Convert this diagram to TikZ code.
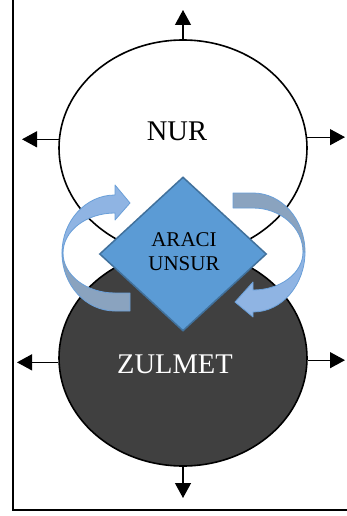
\documentclass[tikz,border=0pt]{standalone}
\usepackage{fontspec}
\setmainfont{Liberation Serif}
\usetikzlibrary{shapes.geometric,arrows.meta}
\definecolor{diafill}{HTML}{5B9BD5}
\definecolor{diaedge}{HTML}{41719C}
\definecolor{frontblue}{HTML}{8FB4E3}
\definecolor{backgray}{HTML}{8AA3BF}
\definecolor{ribedge}{HTML}{6A9FD8}
\definecolor{darkfill}{HTML}{404040}
\begin{document}
\begin{tikzpicture}[x=1pt,y=-1pt,
  blob/.style={ellipse,draw=black,line width=1.6pt,minimum width=248pt,minimum height=216pt,inner sep=0pt},
  outarrow/.style={line width=1.2pt,-{Triangle[length=15pt,width=16pt]}},
  bigtext/.style={font=\fontsize{28.5}{34}\selectfont,anchor=base},
  ribfront/.style={fill=frontblue,draw=ribedge,line width=0.8pt,line join=round},
  ribback/.style={fill=backgray,draw=ribedge,line width=0.8pt,line join=round}]
\useasboundingbox (0,0) rectangle (347,516);
\draw[line width=2.7pt] (13,-2) -- (13,510) -- (349,510);
% ellipses
\node[blob,fill=white] (nur) at (183,148) {};
\node[blob,fill=darkfill] (zul) at (183,358) {};
% outward arrows
\coordinate (nurT) at (183,10);
\coordinate (nurL) at (22,139);
\coordinate (nurR) at (345,137);
\coordinate (zulL) at (17,362);
\coordinate (zulR) at (345,361);
\coordinate (zulB) at (183,498);
\draw[outarrow] (nur.north) -- (nurT);
\draw[outarrow] (nur.176) -- (nur.176 -| nurL);
\draw[outarrow] (nur.5) -- (nur.5 -| nurR);
\draw[outarrow] (zul.182) -- (zul.182 -| zulL);
\draw[outarrow] (zul.-1.5) -- (zul.-1.5 -| zulR);
\draw[outarrow] (zul.south) -- (zulB);
% left curved arrow
\draw[ribback] (62,253) arc[start angle=180,end angle=90,x radius=53,y radius=58] -- (130,311) -- (130,293) -- (115,293) arc[start angle=90,end angle=180,x radius=52,y radius=40] -- cycle;
\draw[ribfront] (115,195) arc[start angle=270,end angle=180,x radius=53,y radius=58] -- (63,253) arc[start angle=180,end angle=270,x radius=52,y radius=40] -- (115,220) -- (130,203) -- (115,185) -- cycle;
% right curved arrow
\draw[ribback] (233,193) -- (253,193) arc[start angle=270,end angle=360,x radius=52,y radius=59] -- (303,252) arc[start angle=0,end angle=-90,x radius=50,y radius=44] -- (233,208) -- cycle;
\draw[ribfront] (305,252) arc[start angle=0,end angle=90,x radius=52,y radius=60] -- (253,317) -- (235,302) -- (253,282) -- (253,290) arc[start angle=90,end angle=0,x radius=50,y radius=38] -- cycle;
% diamond
\node[diamond,fill=diafill,draw=diaedge,line width=1.5pt,minimum width=167pt,minimum height=154pt,inner sep=0pt] (dia) at (183,254) {};
% texts
\node[bigtext] (nurtxt) at (177,140) {NUR};
\node[bigtext,text=white] (zultxt) at (175,373) {ZULMET};
\node[font=\fontsize{21}{24}\selectfont,align=center,inner sep=0pt] (diatxt) at (184,252) {ARACI\\UNSUR};
\end{tikzpicture}
\end{document}
